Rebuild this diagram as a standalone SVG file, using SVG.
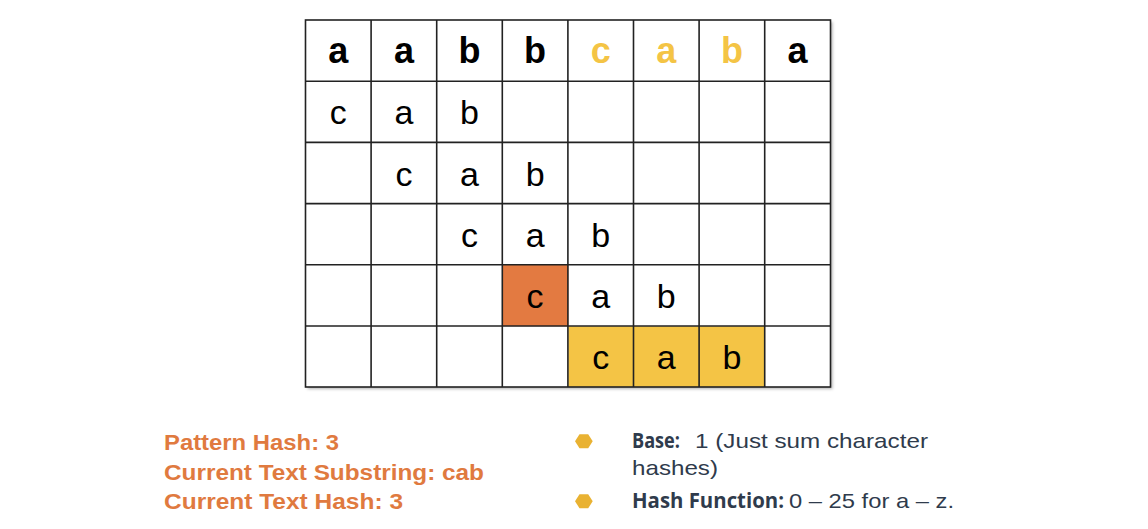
<svg xmlns="http://www.w3.org/2000/svg" width="1148" height="529" viewBox="0 0 1148 529">
<style>
.org{fill:#E37A41}
.yel{fill:#F4C445}
.h{font-family:"Liberation Sans",Arial,sans-serif;font-size:36px;font-weight:bold;text-anchor:middle;fill:#000}
.hy{fill:#F4C445}
.t{font-family:"Liberation Sans",Arial,sans-serif;font-size:34px;text-anchor:middle;fill:#000}
.info{font-family:"Liberation Sans",Arial,sans-serif;font-size:22px;font-weight:bold;fill:#E07A3F}
.bl{font-family:"Liberation Sans",Arial,sans-serif;font-size:21px;fill:#2F3B4C}
.bb{font-family:"Open Sans","Noto Sans",sans-serif;font-size:21px;font-weight:bold;fill:#2F3B4C}
.hex{fill:#E9B232}
</style>
<defs>
<filter id="sh" x="-5%" y="-5%" width="110%" height="110%"><feDropShadow dx="2" dy="2" stdDeviation="1.5" flood-color="#000" flood-opacity="0.3"/></filter>
</defs>
<g id="grid">
<rect x="305.5" y="20" width="525" height="367" fill="#fff" filter="url(#sh)"/>
<rect x="502.7" y="265" width="65.6" height="61.2" class="org"/>
<rect x="568.3" y="326.2" width="196.8" height="60.8" class="yel"/>
<g stroke="#222" stroke-width="1.6" fill="none">
<rect x="305.5" y="20" width="525" height="367"/>
<line x1="371.1" y1="20" x2="371.1" y2="387"/>
<line x1="436.7" y1="20" x2="436.7" y2="387"/>
<line x1="502.3" y1="20" x2="502.3" y2="387"/>
<line x1="567.9" y1="20" x2="567.9" y2="387"/>
<line x1="633.5" y1="20" x2="633.5" y2="387"/>
<line x1="699.1" y1="20" x2="699.1" y2="387"/>
<line x1="764.7" y1="20" x2="764.7" y2="387"/>
<line x1="305.5" y1="81.2" x2="830.5" y2="81.2"/>
<line x1="305.5" y1="142.4" x2="830.5" y2="142.4"/>
<line x1="305.5" y1="203.6" x2="830.5" y2="203.6"/>
<line x1="305.5" y1="264.8" x2="830.5" y2="264.8"/>
<line x1="305.5" y1="326" x2="830.5" y2="326"/>
</g>
</g>
<g id="header">
<text class="h" x="338.3" y="62.5">a</text>
<text class="h" x="403.9" y="62.5">a</text>
<text class="h" x="469.5" y="62.5">b</text>
<text class="h" x="535.1" y="62.5">b</text>
<text class="h hy" x="600.7" y="62.5">c</text>
<text class="h hy" x="666.3" y="62.5">a</text>
<text class="h hy" x="731.9" y="62.5">b</text>
<text class="h" x="797.5" y="62.5">a</text>
</g>
<g id="row1">
<text class="t" x="338.3" y="124.3">c</text>
<text class="t" x="403.9" y="124.3">a</text>
<text class="t" x="469.5" y="124.3">b</text>
</g>
<g id="row2">
<text class="t" x="403.9" y="185.5">c</text>
<text class="t" x="469.5" y="185.5">a</text>
<text class="t" x="535.1" y="185.5">b</text>
</g>
<g id="row3">
<text class="t" x="469.5" y="246.7">c</text>
<text class="t" x="535.1" y="246.7">a</text>
<text class="t" x="600.7" y="246.7">b</text>
</g>
<g id="row4">
<text class="t" x="535.1" y="307.9">c</text>
<text class="t" x="600.7" y="307.9">a</text>
<text class="t" x="666.3" y="307.9">b</text>
</g>
<g id="row5">
<text class="t" x="600.7" y="369.1">c</text>
<text class="t" x="666.3" y="369.1">a</text>
<text class="t" x="731.9" y="369.1">b</text>
</g>
<g id="info">
<text class="info" x="164" y="450" textLength="175" lengthAdjust="spacingAndGlyphs">Pattern Hash: 3</text>
<text class="info" x="164" y="480" textLength="320" lengthAdjust="spacingAndGlyphs">Current Text Substring: cab</text>
<text class="info" x="164" y="509" textLength="239" lengthAdjust="spacingAndGlyphs">Current Text Hash: 3</text>
</g>
<g id="bullets">
<polygon class="hex" points="575,441.3 579.5,434.3 588.2,434.3 592.7,441.3 588.2,448.3 579.5,448.3"/>
<polygon class="hex" points="575,501.3 579.5,494.3 588.2,494.3 592.7,501.3 588.2,508.3 579.5,508.3"/>
<text class="bb" x="632" y="448.3" textLength="48" lengthAdjust="spacingAndGlyphs">Base:</text>
<text class="bl" x="695" y="448.3" textLength="233" lengthAdjust="spacingAndGlyphs">1 (Just sum character</text>
<text class="bl" x="632" y="475" textLength="86" lengthAdjust="spacingAndGlyphs">hashes)</text>
<text class="bb" x="632" y="508.3" textLength="152" lengthAdjust="spacingAndGlyphs">Hash Function:</text>
<text class="bl" x="789" y="508.3" textLength="165" lengthAdjust="spacingAndGlyphs">0 – 25 for a – z.</text>
</g>
</svg>
